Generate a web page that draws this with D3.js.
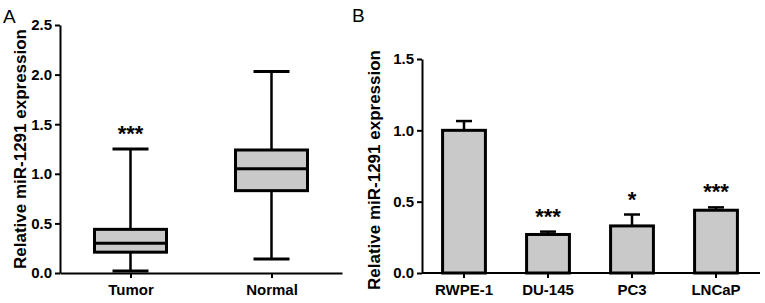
<!DOCTYPE html>
<html>
<head>
<meta charset="utf-8">
<script src="https://cdn.jsdelivr.net/npm/d3@7"></script>
<style>
  body { margin: 0; background: white; }
  text { font-family: "Liberation Sans", Arial, sans-serif; }
</style>
</head>
<body>
<svg></svg>
<script>
var w = 765
var h = 303

// panel A - box plot data (min, q1, median, q3, max)
var groupsA = ["Tumor", "Normal"]
var boxMin = [0.02, 0.14]
var boxQ1 = [0.21, 0.83]
var boxMed = [0.30, 1.05]
var boxQ3 = [0.44, 1.24]
var boxMax = [1.25, 2.03]
var starsA = ["***", ""]
var ticksA = [0, 0.5, 1.0, 1.5, 2.0, 2.5]

// panel B - bar data
var cellsB = ["RWPE-1", "DU-145", "PC3", "LNCaP"]
var meanB = [1.0, 0.27, 0.33, 0.44]
var errB = [0.065, 0.02, 0.08, 0.02]
var starsB = ["", "***", "*", "***"]
var ticksB = [0, 0.5, 1.0, 1.5]

var yTitle = "Relative miR-1291 expression"
var grey = "#c9c9c9"

var svg = d3.select("svg")
	.attr("width", w)
	.attr("height", h)
	.style("background-color", "white")

function styleAxis(g){
	g.attr("font-family", null)
	g.selectAll("path.domain").attr("stroke", "black").attr("stroke-width", 2)
	g.selectAll(".tick line").attr("stroke", "black").attr("stroke-width", 2)
	g.selectAll(".tick text")
		.attr("fill", "black")
		.style("font-size", "15px")
		.style("font-weight", "700")
}

//---------- panel A ----------
var yA = d3.scaleLinear().domain([0, 2.5]).range([273, 25])
var xA = d3.scalePoint().domain(groupsA).range([60, 342]).padding(0.5)

var gA = svg.append("g")

var axYA = gA.append("g")
	.attr("transform", "translate(60,0)")
	.call(d3.axisLeft(yA).tickValues(ticksA).tickFormat(d3.format(".1f")).tickSize(5).tickSizeOuter(0))
styleAxis(axYA)

var axXA = gA.append("g")
	.attr("transform", "translate(0,273)")
	.call(d3.axisBottom(xA).tickSize(5).tickSizeOuter(0))
styleAxis(axXA)
axXA.selectAll(".tick text").attr("dy", "0.95em")

var boxW = 72
var capW = 36

groupsA.forEach(function(g, i){
	var cx = xA(g)
	// whisker
	gA.append("line")
		.attr("x1", cx).attr("x2", cx)
		.attr("y1", yA(boxMin[i])).attr("y2", yA(boxMax[i]))
		.attr("stroke", "black").attr("stroke-width", 2.5)
	// caps
	;[boxMin[i], boxMax[i]].forEach(function(v){
		gA.append("line")
			.attr("x1", cx - capW/2).attr("x2", cx + capW/2)
			.attr("y1", yA(v)).attr("y2", yA(v))
			.attr("stroke", "black").attr("stroke-width", 3)
	})
	// box
	gA.append("rect")
		.attr("x", cx - boxW/2)
		.attr("y", yA(boxQ3[i]))
		.attr("width", boxW)
		.attr("height", yA(boxQ1[i]) - yA(boxQ3[i]))
		.attr("fill", grey)
		.attr("stroke", "black").attr("stroke-width", 3)
	// median
	gA.append("line")
		.attr("x1", cx - boxW/2).attr("x2", cx + boxW/2)
		.attr("y1", yA(boxMed[i])).attr("y2", yA(boxMed[i]))
		.attr("stroke", "black").attr("stroke-width", 3)
	if(starsA[i]){
		gA.append("text")
			.attr("x", cx).attr("y", yA(boxMax[i]) - 8)
			.attr("text-anchor", "middle")
			.style("font-size", "22px").style("font-weight", "700")
			.text(starsA[i])
	}
})

gA.append("text")
	.attr("transform", "translate(26,149) rotate(-90)")
	.attr("text-anchor", "middle")
	.style("font-size", "17px").style("font-weight", "700")
	.text(yTitle)

gA.append("text")
	.attr("x", 3).attr("y", 23)
	.style("font-size", "19px")
	.text("A")

//---------- panel B ----------
var yB = d3.scaleLinear().domain([0, 1.5]).range([273, 59])
var xB = d3.scaleBand().domain(cellsB).range([422, 758]).paddingInner(0.49).paddingOuter(0.245)

var gB = svg.append("g")

var axYB = gB.append("g")
	.attr("transform", "translate(422,0)")
	.call(d3.axisLeft(yB).tickValues(ticksB).tickFormat(d3.format(".1f")).tickSize(5).tickSizeOuter(0))
styleAxis(axYB)

gB.selectAll("line.err")
	.data(cellsB)
	.enter().append("line")
	.attr("class", "err")
	.attr("x1", function(d){ return xB(d) + xB.bandwidth()/2 })
	.attr("x2", function(d){ return xB(d) + xB.bandwidth()/2 })
	.attr("y1", function(d, i){ return yB(meanB[i]) })
	.attr("y2", function(d, i){ return yB(meanB[i] + errB[i]) })
	.attr("stroke", "black").attr("stroke-width", 2.5)

gB.selectAll("line.cap")
	.data(cellsB)
	.enter().append("line")
	.attr("class", "cap")
	.attr("x1", function(d){ return xB(d) + xB.bandwidth()/2 - 8 })
	.attr("x2", function(d){ return xB(d) + xB.bandwidth()/2 + 8 })
	.attr("y1", function(d, i){ return yB(meanB[i] + errB[i]) })
	.attr("y2", function(d, i){ return yB(meanB[i] + errB[i]) })
	.attr("stroke", "black").attr("stroke-width", 2.5)

gB.selectAll("rect.bar")
	.data(cellsB)
	.enter().append("rect")
	.attr("class", "bar")
	.attr("x", function(d){ return xB(d) })
	.attr("y", function(d, i){ return yB(meanB[i]) })
	.attr("width", xB.bandwidth())
	.attr("height", function(d, i){ return yB(0) - yB(meanB[i]) })
	.attr("fill", grey)
	.attr("stroke", "black").attr("stroke-width", 3)

gB.selectAll("text.star")
	.data(cellsB)
	.enter().append("text")
	.attr("class", "star")
	.attr("x", function(d){ return xB(d) + xB.bandwidth()/2 })
	.attr("y", function(d, i){ return yB(meanB[i] + errB[i]) - 8 })
	.attr("text-anchor", "middle")
	.style("font-size", "22px").style("font-weight", "700")
	.text(function(d, i){ return starsB[i] })

var axXB = gB.append("g")
	.attr("transform", "translate(0,273)")
	.call(d3.axisBottom(xB).tickSize(5).tickSizeOuter(0))
styleAxis(axXB)
axXB.selectAll(".tick text").attr("dy", "0.95em")
axXB.select("path.domain").attr("d", "M422,0H760")

gB.append("text")
	.attr("transform", "translate(380,170) rotate(-90)")
	.attr("text-anchor", "middle")
	.style("font-size", "17px").style("font-weight", "700")
	.text(yTitle)

gB.append("text")
	.attr("x", 352).attr("y", 22)
	.style("font-size", "19px")
	.text("B")
</script>
</body>
</html>
